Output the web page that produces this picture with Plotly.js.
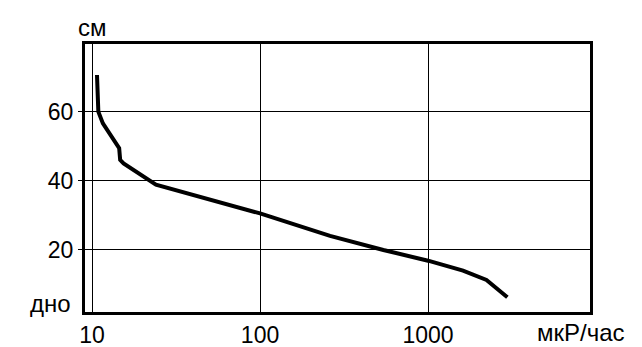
<!DOCTYPE html>
<html>
<head>
<meta charset="utf-8">
<script src="https://cdn.plot.ly/plotly-3.0.1.min.js"></script>
<style>html,body{margin:0;padding:0;background:#fff;}#chart{width:642px;height:347px;}</style>
</head>
<body>
<div id="chart"></div>
<script>
// Dose rate (мкР/час) vs depth above bottom (см)
const doseRate = [10.7, 10.75, 10.9, 11.6, 14.0, 14.5, 14.7, 15.4, 24.0, 100, 261, 542, 1000, 1615, 2227, 2966];
const depth    = [70.7, 65.4, 60.1, 56.7, 50.4, 49.5, 46.1, 45.1, 38.9, 30.6, 24.1, 20.0, 16.9, 14.0, 11.3, 6.3];
const xTickVals = [10, 100, 1000];
const xTickText = ['10', '100', '1000'];
const yTickVals = [20, 40, 60];
const yTickText = ['20', '40', '60'];

const font = {family: 'Liberation Sans, Arial, sans-serif', size: 23, color: '#000'};
const labelFont = {family: 'Liberation Sans, Arial, sans-serif', size: 24, color: '#000'};

const trace = {
  x: doseRate, y: depth, type: 'scatter', mode: 'lines',
  line: {color: '#000', width: 4}, hoverinfo: 'skip'
};

const layout = {
  width: 642, height: 347,
  margin: {l: 85, r: 52, t: 44, b: 35, pad: 0},
  paper_bgcolor: '#fff', plot_bgcolor: '#fff',
  showlegend: false,
  font: font,
  xaxis: {
    type: 'log', range: [0.958, 3.964],
    tickvals: xTickVals, ticktext: xTickText,
    showgrid: true, gridcolor: '#000', gridwidth: 1,
    showline: true, linecolor: '#000', linewidth: 3, mirror: true,
    ticks: '', zeroline: false, tickfont: font, ticklabelstandoff: 0
  },
  yaxis: {
    range: [2.03, 79.7],
    tickvals: yTickVals, ticktext: yTickText,
    showgrid: true, gridcolor: '#000', gridwidth: 1,
    showline: true, linecolor: '#000', linewidth: 3, mirror: true,
    ticks: 'outside', ticklen: 4, tickwidth: 1, tickcolor: '#000',
    zeroline: false, tickfont: font
  },
  annotations: [
    {text: 'см', xref: 'paper', yref: 'paper', x: 0.0149, y: 1.06, xanchor: 'center', yanchor: 'middle', showarrow: false, font: labelFont},
    {text: 'дно', xref: 'paper', yref: 'paper', x: -0.0238, y: 0.03, xanchor: 'right', yanchor: 'middle', showarrow: false, font: labelFont},
    {text: 'мкР/час', xref: 'paper', yref: 'paper', x: 0.891, y: -0.075, xanchor: 'left', yanchor: 'middle', showarrow: false, font: labelFont}
  ]
};

Plotly.newPlot('chart', [trace], layout, {staticPlot: true, displayModeBar: false});
</script>
</body>
</html>
